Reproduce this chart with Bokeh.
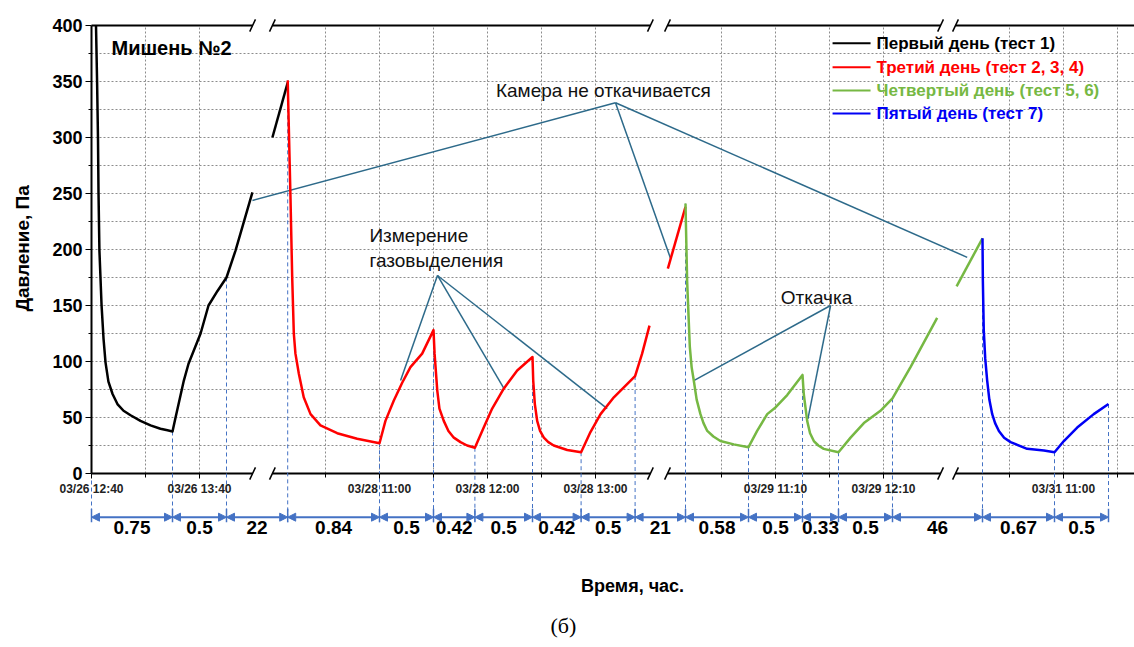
import numpy as np
from bokeh.plotting import figure
from bokeh.models import Range1d, LinearAxis, FixedTicker, ColumnDataSource, Arrow, NormalHead
from bokeh.core.properties import value
from bokeh.embed import file_html
from bokeh.resources import INLINE

# ---------------- data ----------------
# broken time axis: one segment per test day
SEG_DAYS = ["03/26", "03/28", "03/29", "03/31"]
SEG_ORIGIN = ["12:40", "10:00", "10:10", "10:00"]      # clock time at segment origin
SEG_OFFSET = [0, 100, 320, 480]                         # axis minutes at that origin
SEG_START = ["12:40", "10:00.5", "10:10", "10:00"]
SEG_END = ["14:09.5", "13:30.5", "12:41.7", "11:39.4"]

TICK_LABELS = ["03/26 12:40", "03/26 13:40", "03/28 11:00", "03/28 12:00",
               "03/28 13:00", "03/29 11:10", "03/29 12:10", "03/31 11:00"]

Y_TICKS = [0, 50, 100, 150, 200, 250, 300, 350, 400]

# Первый день (тест 1)
BLACK_26_T = ["12:42.5", "12:43.1", "12:43.6", "12:43.9", "12:44.4", "12:45.6", "12:46.7",
              "12:47.8", "12:49.4", "12:51.7", "12:54.4", "12:57.8", "13:01.7", "13:07.2",
              "13:12.8", "13:18.3", "13:22.2", "13:25", "13:26.7", "13:31.3", "13:33.9",
              "13:40.6", "13:45", "13:50", "13:55", "14:00", "14:09.4"]
BLACK_26_P = [400, 350, 300, 250, 199, 150, 120,
              99, 82, 71, 62, 56, 52, 47,
              43, 40, 38.6, 37.5, 50, 83, 98,
              125, 150, 163, 175, 199, 251]
BLACK_28_T = ["10:00.5", "10:09"]
BLACK_28_P = [300, 349]

# Третий день (тест 2, 3, 4)
RED_28_T = ["10:09", "10:10.5", "10:11.5", "10:12.4", "10:13.3", "10:15.2", "10:17.9", "10:21.7",
            "10:27.2", "10:36.5", "10:47.6", "11:00", "11:03.3", "11:07.9", "11:12.6", "11:17.2",
            "11:23.7", "11:30", "11:30.6", "11:32.1", "11:33.3", "11:35.7", "11:38.3", "11:41.3",
            "11:45", "11:48.7", "11:53", "11:57.9", "12:02.6", "12:09.1", "12:16.5", "12:25",
            "12:25.4", "12:26.3", "12:27.6", "12:29.2", "12:31.3", "12:33.8", "12:36.8", "12:44.3",
            "12:52", "12:57.2", "13:02.8", "13:10.2", "13:22", "13:25.9", "13:30"]
RED_28_P = [351, 250, 175, 125, 107, 89, 68, 53,
            43, 36, 31, 27, 47, 65, 81, 95,
            107, 128, 107, 74, 58, 47, 38, 32,
            28, 25, 23, 41, 58, 76, 92, 104,
            83, 62, 47, 38, 32, 28, 25, 21,
            19, 37, 53, 68, 87, 107, 132]
RED_29_T = ["10:10.2", "10:20"]
RED_29_P = [183, 238]

# Четвертый день (тест 5, 6)
GREEN_29_T = ["10:20", "10:20.9", "10:22.4", "10:23.4", "10:24.6", "10:26.2", "10:28.3", "10:30",
              "10:32.1", "10:35.5", "10:39.4", "10:46.8", "10:55", "10:59.8", "11:05.4", "11:10",
              "11:16.5", "11:25", "11:25.7", "11:27.6", "11:29.2", "11:31.3", "11:33.8", "11:36.8",
              "11:45", "11:51.7", "11:59.1", "12:08.3", "12:15", "12:25", "12:39.8"]
GREEN_29_P = [241, 172, 113, 95, 83, 66, 53, 45,
              38, 33, 29, 26, 23.5, 38, 53, 59,
              70, 88, 71, 47, 36, 29, 25, 22,
              19, 32, 45, 56, 67, 95, 139]
GREEN_31_T = ["10:00.6", "10:15"]
GREEN_31_P = [167, 210]

# Пятый день (тест 7)
BLUE_31_T = ["10:15", "10:15.2", "10:15.7", "10:16.5", "10:17.6", "10:18.8", "10:20.4", "10:22",
             "10:24.1", "10:27", "10:30.6", "10:39.8", "10:49.1", "10:55", "11:00.2", "11:07.6",
             "11:16.8", "11:25"]
BLUE_31_P = [210, 172, 128, 103, 83, 66, 53, 45,
             38, 32, 28, 22, 20.5, 19, 29, 41,
             53, 62]

# interval marks below the axis (hours)
INTERVAL_DAY = ["03/26", "03/26", "03/26", "03/28", "03/28", "03/28", "03/28", "03/28", "03/28",
                "03/28", "03/29", "03/29", "03/29", "03/29", "03/29", "03/31", "03/31", "03/31"]
INTERVAL_T = ["12:40", "13:25", "13:55", "10:09", "11:00", "11:30", "11:53", "12:25", "12:52",
              "13:22", "10:20", "10:55", "11:25", "11:45", "12:15", "10:15", "10:55", "11:25"]
INTERVAL_LABELS = ["0.75", "0.5", "22", "0.84", "0.5", "0.42", "0.5", "0.42", "0.5",
                   "21", "0.58", "0.5", "0.33", "0.5", "46", "0.67", "0.5"]

LEGEND_LABELS = ["Первый день (тест 1)", "Третий день (тест 2, 3, 4)",
                 "Четвертый день (тест 5, 6)", "Пятый день (тест 7)"]

# ---------------- helpers ----------------
def clock(s):
    h, m = s.split(":")
    return int(h) * 60 + float(m)


def ax(day, t):
    i = SEG_DAYS.index(day)
    return SEG_OFFSET[i] + clock(t) - clock(SEG_ORIGIN[i])


def axs(day, ts):
    return [ax(day, t) for t in ts]


PX_PER_MIN = 108 / 60.0
PX_PER_PA = 1.12
X0, X1 = -91 / PX_PER_MIN, (1134 - 91) / PX_PER_MIN
Y0, Y1 = -(647 - 473) / PX_PER_PA, 400 + 25 / PX_PER_PA

FONT = value("Liberation Sans")
BLACK, RED, GREEN, BLUE = "#000000", "#FF0000", "#76B843", "#0000F5"
CALLOUT = "#2D6A8A"
MARK = "#4472C4"
GRID = "#8C8C8C"

p = figure(width=1134, height=647, x_range=Range1d(X0, X1), y_range=Range1d(Y0, Y1),
           output_backend="svg", toolbar_location=None, x_axis_type=None, y_axis_type=None,
           min_border=0, outline_line_color=None)
p.background_fill_color = "white"
p.border_fill_color = "white"

seg_start = [ax(d, t) for d, t in zip(SEG_DAYS, SEG_START)]
seg_end = [ax(d, t) for d, t in zip(SEG_DAYS, SEG_END)]

# ticks
major = []
overrides = {}
for lab in TICK_LABELS:
    d, t = lab.split(" ")
    v = int(round(ax(d, t)))
    major.append(v)
    overrides[v] = lab
minor = []
for v in major:
    for cand in (v - 30, v + 30):
        for s, e in zip(seg_start, seg_end):
            if s + 1 < cand < e - 2 and cand not in major and cand not in minor:
                minor.append(cand)
minor.sort()

# grid lines (dotted)
hg = list(range(25, 400, 25))
p.segment(x0=[0] * len(hg), x1=[X1] * len(hg), y0=hg, y1=hg,
          line_color=GRID, line_width=1, line_dash="2 2")
vg = sorted([v for v in major + minor if v > 0])
p.segment(x0=vg, x1=vg, y0=[0] * len(vg), y1=[400] * len(vg),
          line_color=GRID, line_width=1, line_dash="2 2")

# broken bottom/top lines
for yv in (0, 400):
    p.segment(x0=seg_start, x1=seg_end, y0=[yv] * 4, y1=[yv] * 4, line_color="black", line_width=2)
bx = seg_end[:-1] + seg_start[1:]
dx, dy = 1.6, 5.5
for yv in (0, 400):
    p.segment(x0=[b - dx for b in bx], x1=[b + dx for b in bx],
              y0=[yv - dy] * len(bx), y1=[yv + dy] * len(bx), line_color="black", line_width=1.5)

# series pieces
pieces = [
    ("03/26", BLACK_26_T, BLACK_26_P, BLACK), ("03/28", BLACK_28_T, BLACK_28_P, BLACK),
    ("03/28", RED_28_T, RED_28_P, RED), ("03/29", RED_29_T, RED_29_P, RED),
    ("03/29", GREEN_29_T, GREEN_29_P, GREEN), ("03/31", GREEN_31_T, GREEN_31_P, GREEN),
    ("03/31", BLUE_31_T, BLUE_31_P, BLUE),
]

# interval dashed lines from curve down to the marker row
bxs = [ax(d, t) for d, t in zip(INTERVAL_DAY, INTERVAL_T)]
tops = []
for b in bxs:
    top = 0.0
    for d, ts, ps, c in pieces:
        xs = axs(d, ts)
        if xs[0] - 1e-6 <= b <= xs[-1] + 1e-6:
            top = max(top, float(np.interp(b, xs, ps)))
    tops.append(top)
ROW_Y, BAR_TOP, BAR_BOT, LAB_Y = -39, -31.5, -43.5, -48
p.segment(x0=bxs, x1=bxs, y0=tops, y1=[BAR_BOT] * len(bxs),
          line_color=MARK, line_width=1, line_dash="4 3")
p.segment(x0=bxs, x1=bxs, y0=[BAR_TOP] * len(bxs), y1=[BAR_BOT] * len(bxs),
          line_color=MARK, line_width=1.5)
asrc = ColumnDataSource(dict(x0=bxs[:-1], x1=bxs[1:], y=[ROW_Y] * (len(bxs) - 1)))
p.add_layout(Arrow(start=NormalHead(size=8, fill_color=MARK, line_color=MARK),
                   end=NormalHead(size=8, fill_color=MARK, line_color=MARK),
                   x_start="x0", y_start="y", x_end="x1", y_end="y", source=asrc,
                   line_color=MARK, line_width=2))
mids = [(a + b) / 2 for a, b in zip(bxs[:-1], bxs[1:])]
p.text(x=mids, y=[LAB_Y] * len(mids), text=INTERVAL_LABELS, text_font=FONT,
       text_font_style="bold", text_font_size="19px", text_align="center",
       text_baseline="middle", text_color="black")

# callout lines
def callout(apex, ends):
    p.segment(x0=[apex[0]] * len(ends), y0=[apex[1]] * len(ends),
              x1=[e[0] for e in ends], y1=[e[1] for e in ends],
              line_color=CALLOUT, line_width=1.5)

callout((291.1, 331), [(89.4, 243.8), (321.7, 192), (486.5, 193)])
callout((192.2, 176.8), [(171.7, 83), (229.1, 76), (286.5, 58)])
callout((410.6, 150), [(334.6, 83), (398, 48.8)])

for d, ts, ps, c in pieces:
    p.line(axs(d, ts), ps, line_color=c, line_width=2.5, line_join="round")

# annotation texts
p.text(x=[284.4], y=[342], text=["Камера не откачивается"], text_font=FONT,
       text_font_size="19px", text_align="center", text_baseline="middle", text_color="#111111")
p.text(x=[154.4, 154.4], y=[212.5, 190], text=["Измерение", "газовыделения"], text_font=FONT,
       text_font_size="19px", text_align="left", text_baseline="middle", text_color="#111111")
p.text(x=[402.8], y=[157.5], text=["Откачка"], text_font=FONT,
       text_font_size="19px", text_align="center", text_baseline="middle", text_color="#111111")
p.text(x=[11.1], y=[380], text=["Мишень №2"], text_font=FONT, text_font_style="bold",
       text_font_size="20px", text_align="left", text_baseline="middle", text_color="black")

# legend (drawn by hand: coloured label texts)
leg_y = [384.2, 362.8, 342, 321.4]
leg_c = [BLACK, RED, GREEN, BLUE]
p.segment(x0=[411.7] * 4, x1=[432.8] * 4, y0=leg_y, y1=leg_y, line_color=leg_c, line_width=2)
p.text(x=[436.1] * 4, y=leg_y, text=LEGEND_LABELS, text_color=leg_c, text_font=FONT,
       text_font_style="bold", text_font_size="17px", text_align="left", text_baseline="middle")

# axes
yax = LinearAxis(fixed_location=0, bounds=(0, 400),
                 ticker=FixedTicker(ticks=Y_TICKS, minor_ticks=list(range(25, 400, 50))))
yax.axis_line_width = 2
yax.major_tick_out = 6
yax.major_tick_in = 0
yax.minor_tick_out = 3
yax.minor_tick_in = 0
yax.major_label_standoff = 3
yax.major_label_text_font = "Liberation Sans"
yax.major_label_text_font_style = "bold"
yax.major_label_text_font_size = "18px"
yax.major_label_text_color = "black"
p.add_layout(yax, "left")

xax = LinearAxis(fixed_location=0, ticker=FixedTicker(ticks=major, minor_ticks=minor),
                 major_label_overrides=overrides)
xax.axis_line_color = None
xax.major_tick_out = 5
xax.major_tick_in = 0
xax.minor_tick_out = 4
xax.minor_tick_in = 0
xax.major_label_standoff = 3
xax.major_label_text_font = "Liberation Sans"
xax.major_label_text_font_style = "bold"
xax.major_label_text_font_size = "12px"
xax.major_label_text_color = "#222222"
p.add_layout(xax, "below")

# axis titles and caption
p.text(x=[-38.3], y=[201], text=["Давление, Па"], angle=np.pi / 2, text_font=FONT,
       text_font_style="bold", text_font_size="19px", text_align="center",
       text_baseline="middle", text_color="black")
p.text(x=[300.6], y=[-100], text=["Время, час."], text_font=FONT, text_font_style="bold",
       text_font_size="18px", text_align="center", text_baseline="middle", text_color="black")
p.text(x=[262.2], y=[-135.7], text=["(б)"], text_font=value("Liberation Serif"),
       text_font_size="22px", text_align="center", text_baseline="middle", text_color="black")

open("out.html", "w").write(file_html(p, INLINE))
